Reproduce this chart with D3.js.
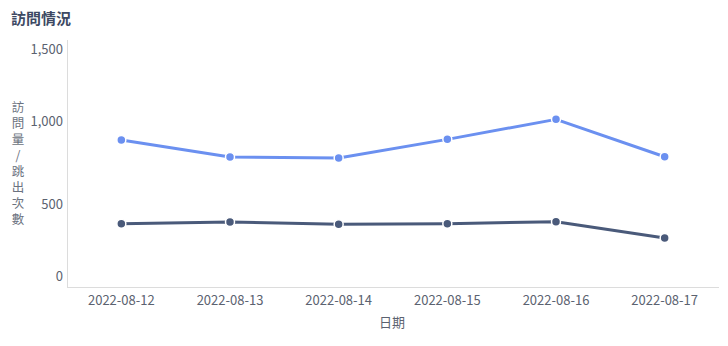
<!DOCTYPE html>
<html><head><meta charset="utf-8">
<script src="https://cdn.jsdelivr.net/npm/d3@7"></script>
<style>
body{margin:0;background:#fff;}
svg{display:block;font-family:"Noto Sans CJK TC","Noto Sans",sans-serif;}
</style></head>
<body><svg id="c" width="728" height="346"></svg>
<script>
const categories = ["2022-08-12","2022-08-13","2022-08-14","2022-08-15","2022-08-16","2022-08-17"];
const visits = [895, 792, 786, 899, 1020, 794];
const bounces = [389, 399, 385, 389, 401, 302];
const yTicks = [0, 500, 1000, 1500];
const title = "訪問情況";
const yTitle = "訪問量/跳出次數";
const xTitle = "日期";

const svg = d3.select("#c");
const pLeft = 67, pRight = 719, pTop = 40, pBottom = 288;
const x = d3.scaleBand().domain(categories).range([pLeft, pRight]);
const y = d3.scaleLinear().domain([0, 1500]).range([pBottom, pTop]);
const cx = d => x(d) + x.bandwidth()/2;

svg.append("text").attr("x", 11).attr("y", 24).text(title)
  .attr("font-size", 15).attr("font-weight", "bold").attr("fill", "#3d4963");

// axes lines
svg.append("line").attr("x1", pLeft+0.5).attr("x2", pLeft+0.5).attr("y1", pTop).attr("y2", pBottom)
  .attr("stroke", "#dcdcdc").attr("stroke-width", 1);
svg.append("line").attr("x1", pLeft).attr("x2", pRight).attr("y1", pBottom-0.5).attr("y2", pBottom-0.5)
  .attr("stroke", "#dcdcdc").attr("stroke-width", 1);

// y tick labels (end labels shifted inward)
const fmt = d3.format(",");
yTicks.forEach((t, i) => {
  let yy = y(t);
  let base = "middle";
  if (i === yTicks.length - 1) { base = "hanging"; yy = y(t) + 2; }
  else if (i === 0) { base = "auto"; yy = y(t) - 7; }
  svg.append("text").attr("x", 63).attr("y", yy)
    .attr("text-anchor", "end").attr("dominant-baseline", base)
    .attr("font-size", 13).attr("fill", "#5b6270").text(fmt(t));
});

// x tick labels
categories.forEach(c => {
  svg.append("text").attr("x", cx(c)).attr("y", 301)
    .attr("text-anchor", "middle").attr("dominant-baseline", "middle")
    .attr("font-size", 13).attr("fill", "#5b6270").text(c);
});

// axis titles
svg.append("text").attr("x", 18).attr("y", 101)
  .attr("style", "writing-mode:vertical-rl;text-orientation:upright;letter-spacing:3.5px")
  .attr("font-size", 12.5).attr("fill", "#6b7280").text(yTitle);
svg.append("text").attr("x", 392).attr("y", 323)
  .attr("text-anchor", "middle").attr("dominant-baseline", "middle")
  .attr("font-size", 13).attr("fill", "#5b6270").text(xTitle);

const series = [
  {vals: visits, color: "#6b90f0"},
  {vals: bounces, color: "#4a5a7a"}
];
const line = d3.line().x((d, i) => cx(categories[i])).y(d => y(d));
series.forEach(s => {
  svg.append("path").datum(s.vals).attr("d", line)
    .attr("fill", "none").attr("stroke", s.color).attr("stroke-width", 3)
    .attr("stroke-linejoin", "round");
  svg.selectAll(null).data(s.vals).enter().append("circle")
    .attr("cx", (d, i) => cx(categories[i])).attr("cy", d => y(d))
    .attr("r", 4.5).attr("fill", s.color).attr("stroke", "#fff").attr("stroke-width", 1.5);
});
</script></body></html>
